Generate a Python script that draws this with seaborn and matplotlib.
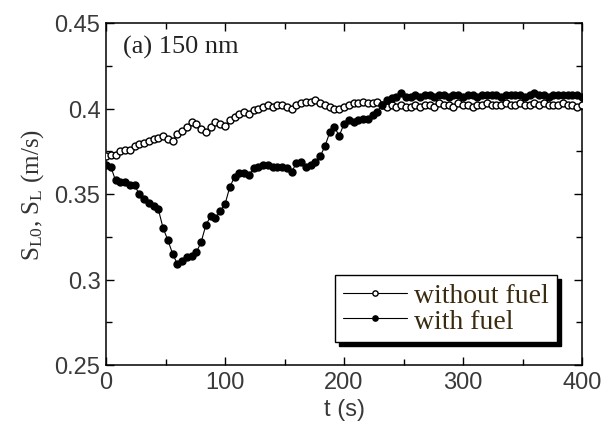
import numpy as np
import pandas as pd
import matplotlib
matplotlib.use("Agg")
import matplotlib.pyplot as plt
import seaborn as sns
from matplotlib.ticker import MultipleLocator

t = list(range(0, 401, 4))
without_fuel = [
    .372, .373, .373, .375, .376, .376, .378, .379, .380, .381,
    .382, .383, .384, .382, .381, .385, .387, .389, .392, .391,
    .388, .386, .389, .392, .391, .390, .393, .395, .397, .398,
    .397, .399, .400, .401, .402, .401, .402, .402, .401, .400,
    .402, .403, .404, .404, .405, .403, .402, .401, .400, .400,
    .401, .402, .403, .403, .404, .403, .403, .404, .402, .401,
    .402, .401, .402, .401, .401, .402, .401, .402, .402, .401,
    .403, .402, .402, .401, .403, .402, .402, .401, .402, .402,
    .403, .402, .402, .402, .403, .402, .402, .403, .402, .402,
    .403, .402, .403, .402, .402, .402, .403, .402, .402, .401,
    .402]
with_fuel = [
    .367, .366, .358, .357, .357, .355, .355, .350, .347, .345,
    .343, .341, .330, .323, .315, .309, .311, .313, .314, .316,
    .322, .332, .337, .336, .340, .344, .354, .360, .362, .362,
    .361, .365, .366, .367, .367, .366, .366, .366, .365, .363,
    .368, .369, .366, .367, .369, .372, .378, .386, .389, .384,
    .391, .393, .392, .393, .394, .394, .396, .398, .402, .405,
    .406, .407, .409, .407, .407, .408, .407, .408, .408, .407,
    .408, .408, .407, .408, .408, .407, .408, .408, .407, .408,
    .408, .408, .408, .407, .408, .408, .408, .408, .407, .408,
    .409, .408, .408, .407, .408, .408, .408, .408, .408, .408,
    .407]
series_labels = ["without fuel", "with fuel"]
x_ticks = [0, 100, 200, 300, 400]
y_ticks = [0.25, 0.3, 0.35, 0.4, 0.45]
y_tick_labels = ["0.25", "0.3", "0.35", "0.4", "0.45"]

sns.set_style("ticks")
plt.rcParams["font.family"] = ["Liberation Serif", "DejaVu Serif"]
plt.rcParams["mathtext.default"] = "regular"

fig = plt.figure(figsize=(6.06, 4.39), dpi=100)
ax = fig.add_axes([106/606, 1-366/439, 476/606, 342/439])

df_open = pd.DataFrame({"t": t, "v": without_fuel})
df_fill = pd.DataFrame({"t": t, "v": with_fuel})
sns.lineplot(data=df_open, x="t", y="v", ax=ax, color="black", lw=0.8,
             marker="o", markersize=5.0, markerfacecolor="white",
             markeredgecolor="black", markeredgewidth=1.0,
             label=series_labels[0], zorder=3)
sns.lineplot(data=df_fill, x="t", y="v", ax=ax, color="black", lw=0.8,
             marker="o", markersize=5.0, markerfacecolor="black",
             markeredgecolor="black", markeredgewidth=1.0,
             label=series_labels[1], zorder=4)

ax.set_xlim(0, 400)
ax.set_ylim(0.25, 0.45)
ax.set_xticks(x_ticks)
ax.set_yticks(y_ticks)
ax.set_yticklabels(y_tick_labels)
ax.xaxis.set_minor_locator(MultipleLocator(50))
ax.yaxis.set_minor_locator(MultipleLocator(0.025))
ax.tick_params(which="both", direction="in", top=True, right=True,
               color="black", width=1.0)
ax.tick_params(which="major", length=6, labelsize=17, labelcolor="#3a3a3a", pad=4)
ax.tick_params(which="minor", length=4)
for lab in ax.get_xticklabels() + ax.get_yticklabels():
    lab.set_family("Liberation Sans")
for s in ax.spines.values():
    s.set_linewidth(1.1)
    s.set_color("black")

ax.set_xlabel("t (s)", fontsize=17, family="Liberation Sans", color="#3a3a3a", labelpad=4)
ax.set_ylabel("S$_{L0}$, S$_{L}$ (m/s)", fontsize=18, color="#333333", labelpad=6)

ax.text(0.035, 0.93, "(a) 150 nm", transform=ax.transAxes, fontsize=19,
        va="center", ha="left", color="#222222")

leg = ax.legend(loc="lower right", bbox_to_anchor=(0.947, 0.067),
                borderaxespad=0, frameon=True, fancybox=False,
                shadow={"color": "black", "alpha": 1.0, "ox": 3, "oy": -3},
                prop={"family": "Liberation Serif", "size": 20},
                handlelength=2.3, handletextpad=0.25, labelspacing=0.0,
                borderpad=0.3)
leg.get_frame().set_edgecolor("black")
leg.get_frame().set_linewidth(1.0)
for h in leg.legend_handles:
    h.set_markersize(3.8)
for txt in leg.get_texts():
    txt.set_color("#3a2a10")

fig.savefig("out.png", dpi=100)
